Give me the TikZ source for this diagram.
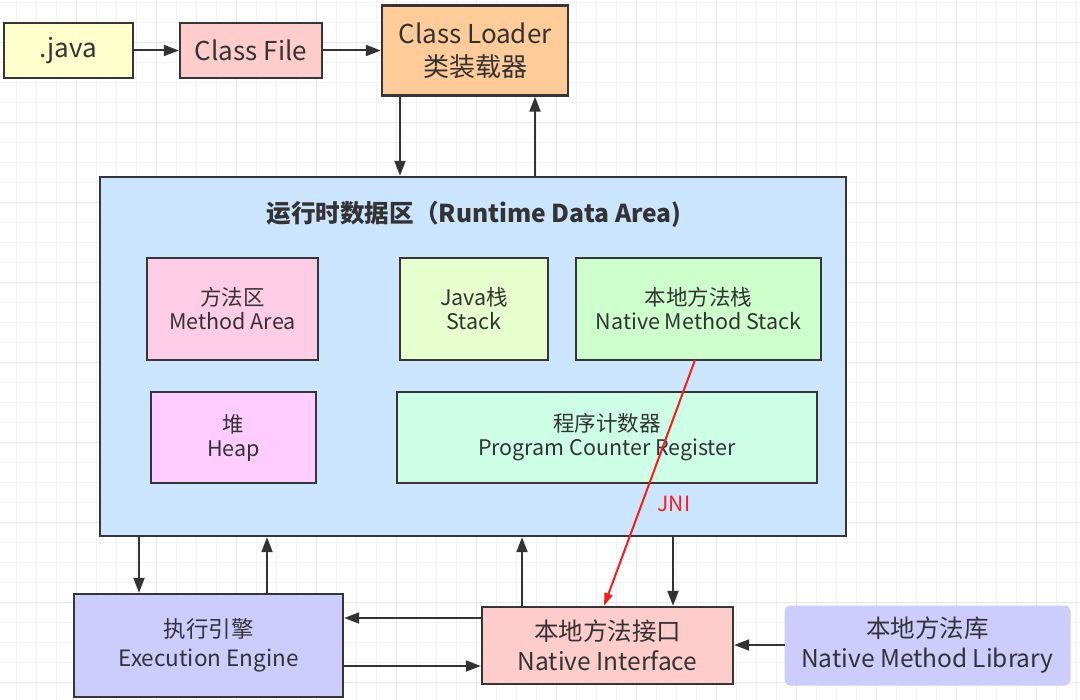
\documentclass[tikz,border=0pt]{standalone}
\usepackage{fontspec}
\setmainfont{Noto Sans CJK SC}
\usetikzlibrary{arrows.meta}
\definecolor{txt}{HTML}{333333}
\definecolor{bord}{HTML}{363636}
\definecolor{gridminor}{HTML}{F3F3F3}
\definecolor{gridmajor}{HTML}{E8E8E8}
\definecolor{cjava}{HTML}{FFFFCC}
\definecolor{cclass}{HTML}{FFCCCC}
\definecolor{cloader}{HTML}{FFCC99}
\definecolor{crda}{HTML}{CCE5FF}
\definecolor{cmethod}{HTML}{FFCCE6}
\definecolor{cjstack}{HTML}{E6FFCC}
\definecolor{cnstack}{HTML}{CCFFCC}
\definecolor{cheap}{HTML}{FFCCFF}
\definecolor{cpc}{HTML}{CCFFE6}
\definecolor{cexec}{HTML}{CCCCFF}
\definecolor{cjni}{HTML}{FF1A1A}
\tikzset{
  box/.style={draw=bord, line width=2.4pt, text=txt, align=center, inner sep=0pt},
  conn/.style={draw=txt, line width=2pt, -{Triangle[length=15pt,width=11pt]}},
  redconn/.style={draw=cjni, line width=2pt, -{Triangle[length=13pt,width=8pt]}},
  fbig/.style={font=\fontsize{26}{33}\selectfont},
  fexec/.style={font=\fontsize{22.5}{29}\selectfont},
  fni/.style={font=\fontsize{24.5}{30}\selectfont},
  fsmall/.style={font=\fontsize{21.5}{24}\selectfont},
}
\begin{document}
\begin{tikzpicture}[x=1pt,y=-1pt]
\useasboundingbox (0,0) rectangle (1080,700);
\fill[white] (0,0) rectangle (1080,700);
% grid
\foreach \x in {16.7,36.7,...,1080} \draw[gridminor, line width=1pt] (\x,0) -- (\x,700);
\foreach \y in {2.7,22.7,...,700} \draw[gridminor, line width=1pt] (0,\y) -- (1080,\y);
\foreach \x in {76.7,156.7,...,1080} \draw[gridmajor, line width=1pt] (\x,0) -- (\x,700);
\foreach \y in {42.7,122.7,...,700} \draw[gridmajor, line width=1pt] (0,\y) -- (1080,\y);

% top row
\node[box, fill=cjava, fbig, minimum width=129pt, minimum height=55pt] (java) at (68.5,50.5) {.java};
\node[box, fill=cclass, fbig, minimum width=142pt, minimum height=55pt] (cfile) at (251,50.5) {Class File};
\node[box, fill=cloader, fbig, minimum width=186pt, minimum height=90pt] (loader) at (475,50.5) {Class Loader\\类装载器};

% runtime data area
\node[box, fill=crda, minimum width=746pt, minimum height=359pt] (rda) at (473,356.5) {};
\node[text=txt, font=\bfseries\fontsize{24.6}{28}\selectfont] (rdatitle) at (474,214) {运行时数据区（Runtime Data Area)};

\node[box, fill=cmethod, fsmall, minimum width=171pt, minimum height=102pt] (method) at (232.5,309) {方法区\\Method Area};
\node[box, fill=cjstack, fsmall, minimum width=148pt, minimum height=102pt] (jstack) at (474,309) {Java栈\\Stack};
\node[box, fill=cnstack, fsmall, minimum width=245pt, minimum height=102pt] (nstack) at (698.5,309) {本地方法栈\\Native Method Stack};
\node[box, fill=cheap, fsmall, minimum width=165pt, minimum height=91pt] (heap) at (233.5,437.5) {堆\\Heap};
\node[box, fill=cpc, fsmall, minimum width=420pt, minimum height=91pt] (pc) at (607,437.5) {程序计数器\\Program Counter Register};

% bottom row
\node[box, fill=cexec, fexec, minimum width=269pt, minimum height=103pt] (exec) at (208.5,645.5) {执行引擎\\Execution Engine};
\node[box, fill=cclass, fni, minimum width=251pt, minimum height=77pt] (ni) at (607.5,645.5) {本地方法接口\\Native Interface};
\node[draw=cexec, fill=cexec, rounded corners=5pt, line width=1pt, text=txt, align=center, inner sep=0pt, fni, minimum width=285pt, minimum height=79pt] (nml) at (927.5,645.5) {本地方法库\\Native Method Library};

% helper coordinates
\coordinate (x400) at (400,0);
\coordinate (x535) at (535,0);
\coordinate (x139) at (139,0);
\coordinate (x267) at (267,0);
\coordinate (x522) at (522,0);
\coordinate (x673) at (673,0);
\coordinate (y618) at (0,618);
\coordinate (y666) at (0,666);
\coordinate (y645) at (0,645);
\coordinate (jnis) at (695,360);
\coordinate (jnie) at (604,606);

% connectors
\draw[conn] (java.east) -- (cfile.west);
\draw[conn] (cfile.east) -- (cfile.east -| loader.west);
\draw[conn] (x400 |- loader.south) -- (x400 |- rda.north);
\draw[conn] (x535 |- rda.north) -- (x535 |- loader.south);
\draw[conn] (x139 |- rda.south) -- (x139 |- exec.north);
\draw[conn] (x267 |- exec.north) -- (x267 |- rda.south);
\draw[conn] (x522 |- ni.north) -- (x522 |- rda.south);
\draw[conn] (x673 |- rda.south) -- (x673 |- ni.north);
\draw[conn] (y618 -| ni.west) -- (y618 -| exec.east);
\draw[conn] (y666 -| exec.east) -- (y666 -| ni.west);
\draw[conn] (y645 -| nml.west) -- (y645 -| ni.east);
\draw[redconn] (jnis) -- (jnie);
\node[text=cjni, font=\fontsize{21}{24}\selectfont] (jni) at (674,504) {JNI};
\end{tikzpicture}
\end{document}
